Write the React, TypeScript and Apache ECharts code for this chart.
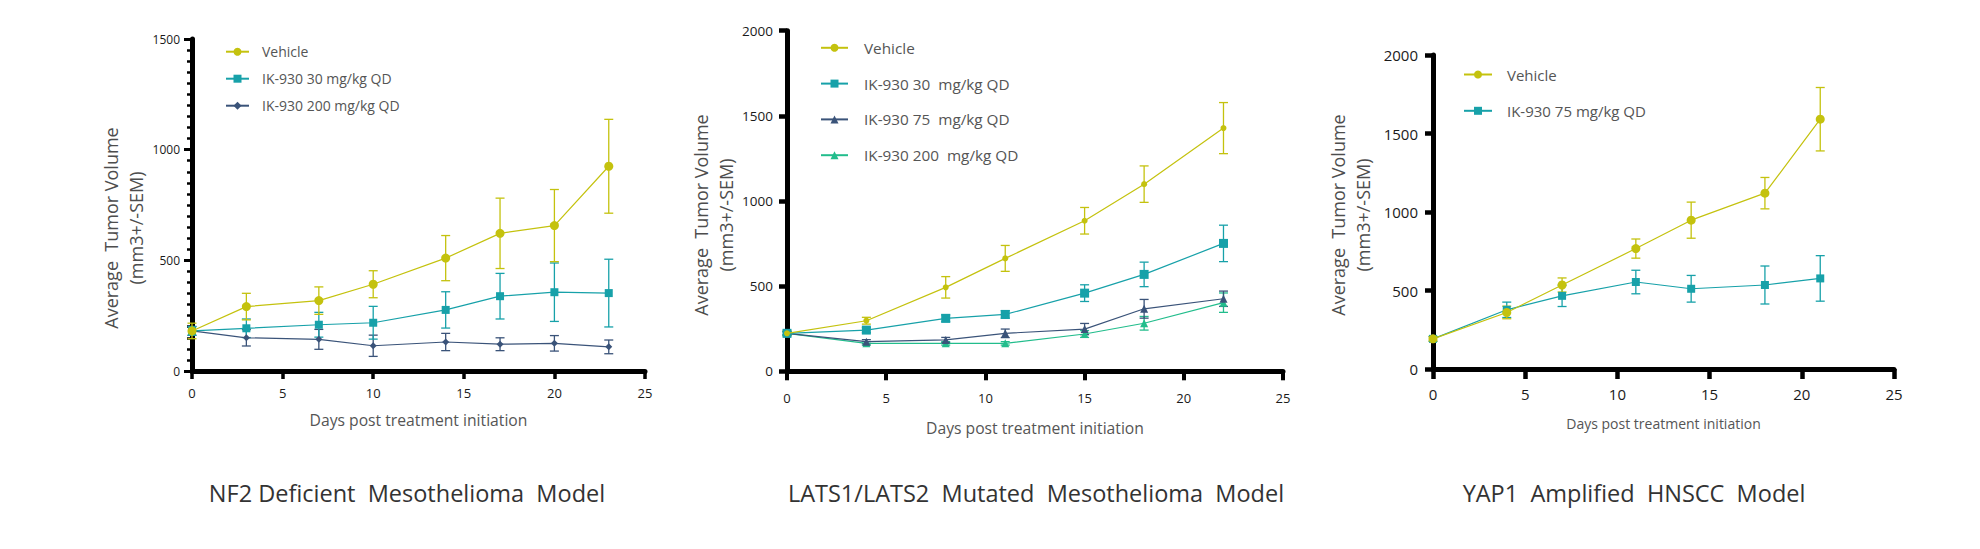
import React, { useEffect, useRef } from 'react';
import * as echarts from 'echarts';

const FONT = "'Open Sans', 'Noto Sans', sans-serif";

const VEHICLE = '#c4c20e';
const TEAL = '#17a1a9';
const NAVY = '#3a5379';
const GREEN = '#22bd8c';

// ---- NF2 Deficient Mesothelioma Model ----
const nf2Days = [0, 3, 7, 10, 14, 17, 20, 23];
const nf2Vehicle = [181, 291, 318, 392, 510, 622, 657, 925];
const nf2VehicleSem = [35, 60, 62, 61, 102, 159, 163, 212];
const nf2Ik30 = [181, 193, 209, 218, 276, 338, 356, 352];
const nf2Ik30Sem = [20, 42, 56, 74, 82, 103, 132, 153];
const nf2Ik200 = [181, 150, 143, 114, 131, 121, 125, 109];
const nf2Ik200Sem = [20, 37, 45, 48, 39, 29, 35, 31];

// ---- LATS1/LATS2 Mutated Mesothelioma Model ----
const latsDays = [0, 4, 8, 11, 15, 18, 22];
const latsVehicle = [223, 297, 493, 663, 884, 1099, 1428];
const latsVehicleSem = [15, 20, 63, 76, 78, 107, 150];
const latsIk30 = [223, 242, 311, 334, 459, 569, 751];
const latsIk30Sem = [10, 15, 20, 22, 49, 72, 107];
const latsIk75 = [223, 174, 184, 223, 248, 367, 426];
const latsIk75Sem = [10, 12, 15, 25, 33, 55, 45];
const latsIk200 = [223, 164, 164, 164, 219, 282, 403];
const latsIk200Sem = [10, 10, 10, 10, 20, 40, 57];

// ---- YAP1 Amplified HNSCC Model ----
const yapDays = [0, 4, 7, 11, 14, 18, 21];
const yapVehicle = [192, 360, 535, 767, 948, 1120, 1591];
const yapVehicleSem = [15, 40, 45, 61, 115, 100, 202];
const yapIk75 = [192, 377, 466, 554, 511, 535, 577];
const yapIk75Sem = [15, 49, 68, 75, 85, 121, 145];

const xTicksMax = 25;
const xTickStep = 5;

const titles = [
  'NF2 Deficient  Mesothelioma  Model',
  'LATS1/LATS2  Mutated  Mesothelioma  Model',
  'YAP1  Amplified  HNSCC  Model',
];
const yName = 'Average  Tumor Volume\n(mm3+/-SEM)';
const xName = 'Days post treatment initiation';

function lineSeries(name: string, days: number[], means: number[], color: string, symbol: string, size: number, idx: number, z: number) {
  return {
    type: 'line',
    name,
    xAxisIndex: idx,
    yAxisIndex: idx,
    data: days.map((d, i) => [d, means[i]]),
    symbol,
    symbolSize: size,
    showSymbol: true,
    lineStyle: { color, width: 1.2 },
    itemStyle: { color, borderWidth: 0 },
    z,
    silent: true,
  };
}

function errSeries(days: number[], means: number[], sems: number[], color: string, idx: number, z: number) {
  return {
    type: 'custom',
    xAxisIndex: idx,
    yAxisIndex: idx,
    z,
    silent: true,
    data: days.map((d, i) => [d, means[i] - sems[i], means[i] + sems[i]]),
    renderItem: (params: any, api: any) => {
      const lo = api.coord([api.value(0), api.value(1)]);
      const hi = api.coord([api.value(0), api.value(2)]);
      const w = 4.5;
      const style = { stroke: color, lineWidth: 1.3 };
      return {
        type: 'group',
        children: [
          { type: 'line', shape: { x1: lo[0], y1: lo[1], x2: hi[0], y2: hi[1] }, style },
          { type: 'line', shape: { x1: hi[0] - w, y1: hi[1], x2: hi[0] + w, y2: hi[1] }, style },
          { type: 'line', shape: { x1: lo[0] - w, y1: lo[1], x2: lo[0] + w, y2: lo[1] }, style },
        ],
      };
    },
  };
}

function xAxis(idx: number, labelSize: number, labelMargin: number, nameSize: number, nameGap: number, tickLen: number, tickW: number) {
  return {
    gridIndex: idx,
    type: 'value',
    min: 0,
    max: xTicksMax,
    interval: xTickStep,
    name: xName,
    nameLocation: 'middle',
    nameGap,
    nameTextStyle: { fontSize: nameSize, color: '#555', fontFamily: FONT },
    axisLine: { show: true, onZero: false, lineStyle: { color: '#000', width: 5 } },
    axisTick: { show: true, length: tickLen, lineStyle: { color: '#000', width: tickW } },
    axisLabel: { margin: labelMargin, fontSize: labelSize, color: '#1a1a1a', fontFamily: FONT, formatter: (v: number) => String(v) },
    splitLine: { show: false },
  };
}

function yAxis(idx: number, max: number, labelSize: number, labelMargin: number, nameGap: number, shift: number, minor: boolean) {
  return {
    gridIndex: idx,
    type: 'value',
    min: 0,
    max,
    interval: 500,
    name: yName,
    nameLocation: 'middle',
    nameRotate: 90,
    nameGap,
    nameTextStyle: { fontSize: 18, lineHeight: 25, color: '#4d4d4d', fontFamily: FONT, padding: [0, shift, 0, 0] },
    axisLine: { show: true, lineStyle: { color: '#000', width: 5 } },
    axisTick: { show: true, length: 8, lineStyle: { color: '#000', width: minor ? 3 : 4.5 } },
    minorTick: { show: minor, splitNumber: 10, length: 5, lineStyle: { color: '#000', width: 2.5 } },
    axisLabel: { margin: labelMargin, fontSize: labelSize, color: '#1a1a1a', fontFamily: FONT, formatter: (v: number) => String(v) },
    splitLine: { show: false },
  };
}

function legend(left: number, top: number, names: string[], itemWidth: number, gap: number, fontSize: number, pad: number) {
  return {
    left,
    top,
    orient: 'vertical',
    padding: 0,
    itemWidth,
    itemHeight: 10,
    itemGap: gap,
    selectedMode: false,
    data: names,
    formatter: (n: string) => n.trim(),
    textStyle: { fontSize, lineHeight: 14, color: '#555', fontFamily: FONT, padding: [0, 0, 0, pad] },
  };
}

const titleStyle = { align: 'center', verticalAlign: 'middle', fontSize: 23.5, fill: '#333', fontFamily: FONT };

const option: any = {
  animation: false,
  backgroundColor: '#fff',
  grid: [
    { left: 192, top: 39, width: 453, height: 332 },
    { left: 787, top: 30.7, width: 496, height: 340.6 },
    { left: 1433, top: 55, width: 461, height: 314 },
  ],
  xAxis: [
    xAxis(0, 13, 15, 15.7, 41, 8, 3.5),
    xAxis(1, 13, 20, 15.7, 48.5, 9, 4),
    xAxis(2, 15, 17, 14, 47.5, 10, 4.5),
  ],
  yAxis: [
    yAxis(0, 1500, 12, 12, 41.5, 46, true),
    yAxis(1, 2000, 13.5, 14, 43, 28, false),
    yAxis(2, 2000, 15, 15, 57.5, 6, false),
  ],
  legend: [
    legend(225, 44.7, ['Vehicle', 'IK-930 30 mg/kg QD', 'IK-930 200 mg/kg QD'], 23, 13, 14, 8),
    legend(820, 40.3, ['Vehicle ', 'IK-930 30  mg/kg QD', 'IK-930 75  mg/kg QD', 'IK-930 200  mg/kg QD'], 27, 20.8, 15.3, 11),
    legend(1463, 67, ['Vehicle  ', 'IK-930 75 mg/kg QD'], 28, 21.3, 15, 10),
  ],
  series: [
    errSeries(nf2Days, nf2Ik200, nf2Ik200Sem, NAVY, 0, 1),
    errSeries(nf2Days, nf2Ik30, nf2Ik30Sem, TEAL, 0, 1),
    errSeries(nf2Days, nf2Vehicle, nf2VehicleSem, VEHICLE, 0, 1),
    lineSeries('IK-930 200 mg/kg QD', nf2Days, nf2Ik200, NAVY, 'diamond', 7, 0, 3),
    lineSeries('IK-930 30 mg/kg QD', nf2Days, nf2Ik30, TEAL, 'rect', 8, 0, 4),
    lineSeries('Vehicle', nf2Days, nf2Vehicle, VEHICLE, 'circle', 9, 0, 5),

    errSeries(latsDays, latsIk200, latsIk200Sem, GREEN, 1, 1),
    errSeries(latsDays, latsIk75, latsIk75Sem, NAVY, 1, 1),
    errSeries(latsDays, latsIk30, latsIk30Sem, TEAL, 1, 1),
    errSeries(latsDays, latsVehicle, latsVehicleSem, VEHICLE, 1, 1),
    lineSeries('IK-930 200  mg/kg QD', latsDays, latsIk200, GREEN, 'triangle', 8, 1, 3),
    lineSeries('IK-930 75  mg/kg QD', latsDays, latsIk75, NAVY, 'triangle', 8, 1, 3),
    lineSeries('IK-930 30  mg/kg QD', latsDays, latsIk30, TEAL, 'rect', 9, 1, 4),
    lineSeries('Vehicle ', latsDays, latsVehicle, VEHICLE, 'circle', 6, 1, 5),

    errSeries(yapDays, yapIk75, yapIk75Sem, TEAL, 2, 1),
    errSeries(yapDays, yapVehicle, yapVehicleSem, VEHICLE, 2, 1),
    lineSeries('IK-930 75 mg/kg QD', yapDays, yapIk75, TEAL, 'rect', 8, 2, 4),
    lineSeries('Vehicle  ', yapDays, yapVehicle, VEHICLE, 'circle', 9, 2, 5),
  ],
  graphic: [
    { type: 'text', x: 407, y: 493, style: { ...titleStyle, text: titles[0] } },
    { type: 'text', x: 1036, y: 493, style: { ...titleStyle, text: titles[1] } },
    { type: 'text', x: 1634, y: 493, style: { ...titleStyle, text: titles[2] } },
  ],
};

export default function App() {
  const ref = useRef<HTMLDivElement>(null);
  useEffect(() => {
    const chart = echarts.init(ref.current as HTMLDivElement, null, { renderer: 'svg' });
    chart.setOption(option);
    return () => chart.dispose();
  }, []);
  return (
    <div
      ref={ref}
      style={{ position: 'absolute', left: 0, top: 0, width: 1980, height: 549, background: '#fff' }}
    />
  );
}
